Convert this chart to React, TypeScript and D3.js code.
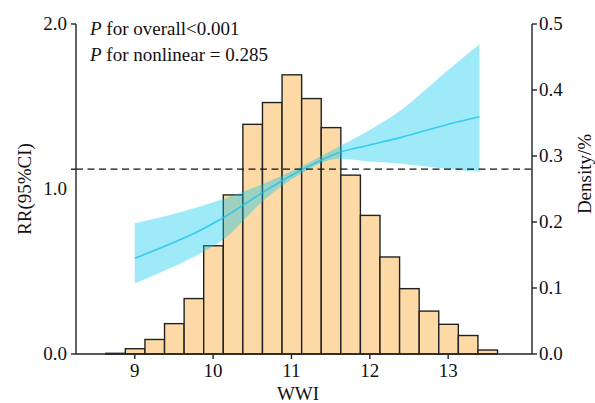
import { useEffect, useRef } from 'react';
import * as d3 from 'd3';

// histogram of WWI (density)
const binEdges = [8.63, 8.88, 9.13, 9.38, 9.63, 9.88, 10.13, 10.38, 10.63, 10.88, 11.13,
  11.38, 11.63, 11.88, 12.13, 12.38, 12.63, 12.88, 13.13, 13.38, 13.63];
const density = [0.001, 0.008, 0.022, 0.046, 0.084, 0.164, 0.241, 0.348, 0.381, 0.423,
  0.387, 0.343, 0.271, 0.21, 0.147, 0.099, 0.065, 0.045, 0.028, 0.006];

// RCS curve with 95% CI
const wwi = [9.0, 9.45, 9.8, 10.15, 10.65, 11.15, 11.6, 12.0, 12.4, 13.0, 13.4];
const rr = [0.58, 0.667, 0.741, 0.832, 0.984, 1.121, 1.22, 1.267, 1.313, 1.392, 1.438];
const rrLow = [0.428, 0.519, 0.6, 0.701, 0.933, 1.10, 1.183, 1.167, 1.153, 1.121, 1.105];
const rrHigh = [0.792, 0.842, 0.889, 0.943, 1.034, 1.142, 1.256, 1.358, 1.479, 1.721, 1.877];

const refRR = 1.12;
const xTicks = [9, 10, 11, 12, 13];
const rrTicks = [0, 1, 2];
const densityTicks = [0, 0.1, 0.2, 0.3, 0.4, 0.5];
const annotations = ['P for overall<0.001', 'P for nonlinear = 0.285'];

const W = 595;
const H = 403;
const margin = { top: 24, right: 63, bottom: 49, left: 76 };
const font = '"Liberation Serif", "Times New Roman", serif';
const ink = '#222';

const App = () => {
  const svgRef = useRef<SVGSVGElement>(null);

  useEffect(() => {
    if (!svgRef.current) return;
    const svg = d3.select(svgRef.current);
    svg.selectAll('*').remove();

    const x = d3.scaleLinear().domain([8.25, 14.07]).range([margin.left, W - margin.right]);
    const yRR = d3.scaleLinear().domain([0, 2]).range([H - margin.bottom, margin.top]);
    const yD = d3.scaleLinear().domain([0, 0.5]).range([H - margin.bottom, margin.top]);

    // bars
    svg.append('g')
      .selectAll('rect')
      .data(density)
      .enter()
      .append('rect')
      .attr('x', (_, i) => x(binEdges[i]))
      .attr('width', (_, i) => x(binEdges[i + 1]) - x(binEdges[i]))
      .attr('y', d => yD(d))
      .attr('height', d => yD(0) - yD(d))
      .attr('fill', '#fdd9a6')
      .attr('stroke', ink)
      .attr('stroke-width', 1.4);

    const pts = wwi.map((v, i) => ({ v, m: rr[i], lo: rrLow[i], hi: rrHigh[i] }));

    const area = d3.area<typeof pts[0]>()
      .x(d => x(d.v))
      .y0(d => yRR(d.lo))
      .y1(d => yRR(d.hi))
      .curve(d3.curveMonotoneX);

    svg.append('path')
      .attr('d', area(pts) as string)
      .attr('fill', '#00c8f0')
      .attr('fill-opacity', 0.38);

    const line = d3.line<typeof pts[0]>()
      .x(d => x(d.v))
      .y(d => yRR(d.m))
      .curve(d3.curveMonotoneX);

    svg.append('path')
      .attr('d', line(pts) as string)
      .attr('fill', 'none')
      .attr('stroke', '#1cc3ee')
      .attr('stroke-opacity', 0.8)
      .attr('stroke-width', 1.6);

    // reference line
    svg.append('line')
      .attr('x1', x.range()[0]).attr('x2', x.range()[1])
      .attr('y1', yRR(refRR)).attr('y2', yRR(refRR))
      .attr('stroke', '#111')
      .attr('stroke-width', 1.3)
      .attr('stroke-dasharray', '7,4.5');

    // axes
    const axisG = svg.append('g').attr('stroke', ink).attr('stroke-width', 1.4);
    axisG.append('line')
      .attr('x1', x.range()[0]).attr('x2', x.range()[1])
      .attr('y1', yRR(0)).attr('y2', yRR(0));
    axisG.append('line')
      .attr('x1', x.range()[0]).attr('x2', x.range()[0])
      .attr('y1', yRR(0)).attr('y2', yRR(2));
    axisG.append('line')
      .attr('x1', x.range()[1]).attr('x2', x.range()[1])
      .attr('y1', yD(0)).attr('y2', yD(0.5));

    axisG.selectAll('.xt').data(xTicks).enter().append('line')
      .attr('x1', d => x(d)).attr('x2', d => x(d))
      .attr('y1', yRR(0)).attr('y2', yRR(0) + 5);
    // left ticks: the middle tick sits on the reference line
    axisG.selectAll('.lt').data([0, refRR, 2]).enter().append('line')
      .attr('x1', x.range()[0] - 5).attr('x2', x.range()[0])
      .attr('y1', d => yRR(d)).attr('y2', d => yRR(d));
    axisG.selectAll('.rt').data(densityTicks).enter().append('line')
      .attr('x1', x.range()[1]).attr('x2', x.range()[1] + 5)
      .attr('y1', d => yD(d)).attr('y2', d => yD(d));

    const txt = svg.append('g')
      .attr('font-family', font)
      .attr('font-size', 19)
      .attr('fill', '#111');

    txt.selectAll('.xl').data(xTicks).enter().append('text')
      .attr('x', d => x(d))
      .attr('y', yRR(0) + 23)
      .attr('text-anchor', 'middle')
      .text(d => d);

    txt.selectAll('.ll').data(rrTicks).enter().append('text')
      .attr('x', x.range()[0] - 9)
      .attr('y', d => yRR(d) + 6)
      .attr('text-anchor', 'end')
      .text(d => d.toFixed(1));

    txt.selectAll('.rl').data(densityTicks).enter().append('text')
      .attr('x', x.range()[1] + 7)
      .attr('y', d => yD(d) + 6)
      .text(d => d.toFixed(1));

    txt.append('text')
      .attr('x', (x.range()[0] + x.range()[1]) / 2 - 6)
      .attr('y', H - 3)
      .attr('text-anchor', 'middle')
      .text('WWI');

    txt.append('text')
      .attr('transform', `translate(31, ${yRR(1)}) rotate(-90)`)
      .attr('text-anchor', 'middle')
      .text('RR(95%CI)');

    txt.append('text')
      .attr('transform', `translate(591, 174) rotate(-90)`)
      .attr('text-anchor', 'middle')
      .text('Density/%');

    annotations.forEach((a, i) => {
      const t = txt.append('text')
        .attr('x', 90)
        .attr('y', 35 + i * 26);
      t.append('tspan').attr('font-style', 'italic').text(a.slice(0, 1));
      t.append('tspan').text(a.slice(1));
    });
  }, []);

  return (
    <svg
      ref={svgRef}
      width={W}
      height={H}
      style={{ position: 'absolute', left: 0, top: 0, background: '#fff' }}
    />
  );
};

export default App;
